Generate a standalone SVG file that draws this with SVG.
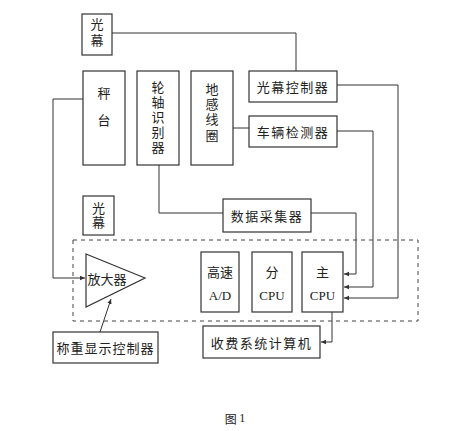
<svg xmlns="http://www.w3.org/2000/svg" width="467" height="431" viewBox="0 0 467 431">
<style>
rect.b{fill:#fff;stroke:#333;stroke-width:1.2}
.c{fill:none;stroke:#333;stroke-width:1}
text{font-family:"Noto Sans CJK SC","Noto Sans CJK JP",sans-serif;font-size:13px;fill:#222;text-anchor:middle;dominant-baseline:central}
text.l{font-family:"Liberation Serif",serif;font-size:13px}
text.v{writing-mode:vertical-rl;text-orientation:upright}
</style>
<defs>
<marker id="a" markerWidth="6" markerHeight="6" refX="5" refY="3" orient="auto" markerUnits="userSpaceOnUse"><path d="M0,0.8 L5,3 L0,5.2 Z" fill="#333"/></marker>
</defs>
<rect width="467" height="431" fill="#fff"/>
<g id="connectors">
<polyline class="c" points="112,33 296,33 296,71"/>
<polyline class="c" points="337,85 398,85 398,298 344,298" marker-end="url(#a)"/>
<polyline class="c" points="233,128 249,128"/>
<polyline class="c" points="337,131 373,131 373,287 344,287" marker-end="url(#a)"/>
<polyline class="c" points="159,165 159,213 223,213"/>
<polyline class="c" points="311,213 356,213 356,274 344,274" marker-end="url(#a)"/>
<polyline class="c" points="83,99 53,99 53,278 85,278" marker-end="url(#a)"/>
<polyline class="c" points="332,312 332,342 321,342" marker-end="url(#a)"/>
<line class="c" x1="100" y1="332" x2="111" y2="299" marker-end="url(#a)"/>
</g>
<rect id="dashed" x="73" y="240" width="345" height="81" fill="none" stroke="#444" stroke-width="1" stroke-dasharray="4,4"/>
<g id="guangmu1"><rect class="b" x="82" y="14" width="30" height="41"/><text class="v" x="97" y="34" letter-spacing="3">光幕</text></g>
<g id="guangmukzq"><rect class="b" x="249" y="71" width="88" height="31"/><text x="293" y="86.5" letter-spacing="1.5">光幕控制器</text></g>
<g id="chengtai"><rect class="b" x="83" y="71" width="42" height="94"/><text class="v" x="104" y="113.5" letter-spacing="14">秤台</text></g>
<g id="lunzhou"><rect class="b" x="137" y="71" width="42" height="94"/><text class="v" x="158" y="118" letter-spacing="2">轮轴识别器</text></g>
<g id="digan"><rect class="b" x="191" y="71" width="42" height="94"/><text class="v" x="212" y="113" letter-spacing="2.3">地感线圈</text></g>
<g id="cheliang"><rect class="b" x="249" y="116" width="88" height="31"/><text x="293" y="131.5" letter-spacing="1.5">车辆检测器</text></g>
<g id="guangmu2"><rect class="b" x="83" y="196" width="31" height="39"/><text class="v" x="98.5" y="216" font-size="12" letter-spacing="1.5">光幕</text></g>
<g id="shuju"><rect class="b" x="223" y="199" width="88" height="33"/><text x="267" y="215.5" letter-spacing="1.5">数据采集器</text></g>
<g id="fangdaqi"><polygon points="86,254 145,278 86,307" fill="#fff" stroke="#333" stroke-width="1.2"/><text x="107" y="278">放大器</text></g>
<g id="ad"><rect class="b" x="201" y="252" width="38" height="60"/><text x="220" y="271">高速</text><text class="l" x="220" y="295">A/D</text></g>
<g id="fencpu"><rect class="b" x="252" y="252" width="40" height="60"/><text x="272" y="271">分</text><text class="l" x="272" y="295">CPU</text></g>
<g id="zhucpu"><rect class="b" x="302" y="252" width="41" height="60"/><text x="322.5" y="271">主</text><text class="l" x="322.5" y="295">CPU</text></g>
<g id="shoufei"><rect class="b" x="203" y="326" width="117" height="32"/><text x="261.5" y="342" letter-spacing="1.5">收费系统计算机</text></g>
<g id="chengzhong"><rect class="b" x="53" y="332" width="105" height="31"/><text x="105.5" y="347.5" letter-spacing="1">称重显示控制器</text></g>
<text x="235" y="418" style="font-family:'Noto Sans CJK SC',sans-serif;font-size:12px">图 <tspan style="font-family:'Liberation Serif',serif">1</tspan></text>
</svg>
